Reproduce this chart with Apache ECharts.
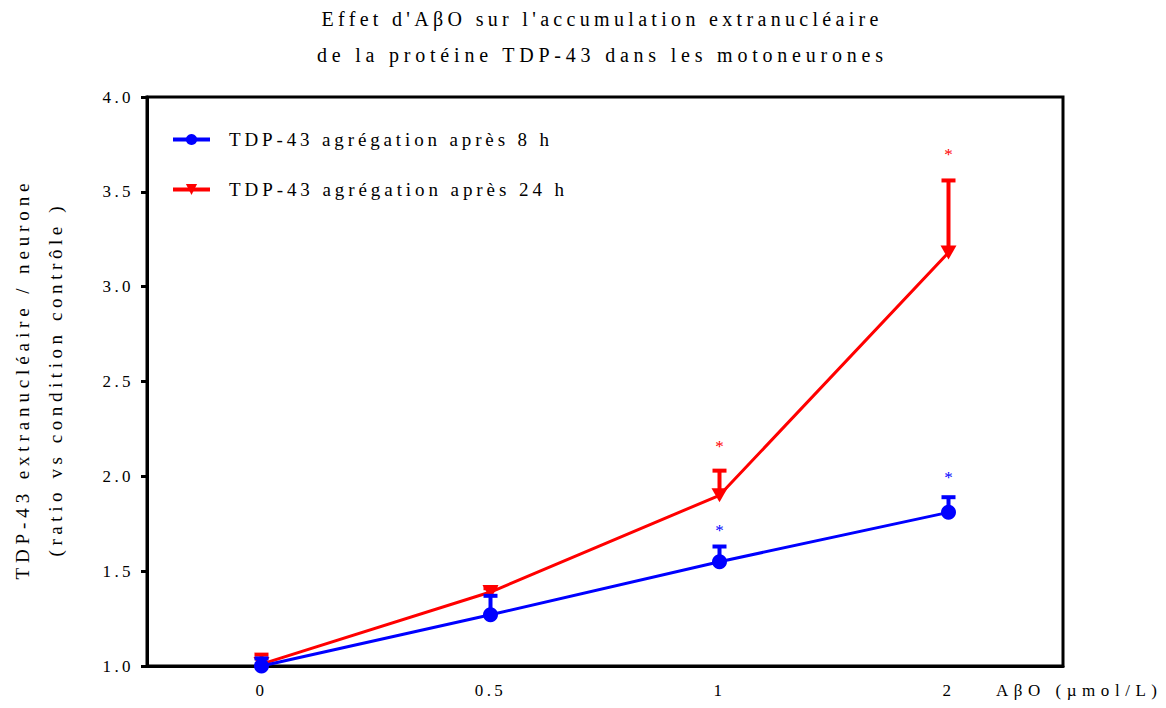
<!DOCTYPE html>
<html><head><meta charset="utf-8">
<script src="https://cdn.jsdelivr.net/npm/echarts@6/dist/echarts.min.js"></script>
<style>html,body{margin:0;padding:0;background:#fff}#c{width:1166px;height:708px}</style>
</head><body><div id="c"></div>
<script>
const doses = ['0', '0.5', '1', '2'];
const mean8 = [1.00, 1.27, 1.55, 1.81];
const top8 = [1.04, 1.37, 1.63, 1.89];
const mean24 = [1.01, 1.39, 1.90, 3.18];
const top24 = [1.06, 1.41, 2.03, 3.56];
const star8 = [null, null, 1.72, 2.00];
const star24 = [null, null, 2.16, 3.70];
const name8 = 'TDP-43 agrégation après 8 h';
const name24 = 'TDP-43 agrégation après 24 h';
const titleLines = ["Effet d'AβO sur l'accumulation extranucléaire", 'de la protéine TDP-43 dans les motoneurones'];
const yNameLines = ['TDP-43 extranucléaire / neurone', '(ratio vs condition contrôle )'];
const xName = 'AβO (µmol/L)';

const FONT = 'Liberation Serif';
const BLUE = '#0000ff', RED = '#ff0000';
// rendered text widths (style only), used to mimic the wide tracking of the original
const TEXT_WIDTHS = {};
TEXT_WIDTHS[titleLines[0]] = 557;
TEXT_WIDTHS[titleLines[1]] = 566;
TEXT_WIDTHS[name8] = 320;
TEXT_WIDTHS[name24] = 335;
TEXT_WIDTHS[yNameLines[0]] = 396;
TEXT_WIDTHS[yNameLines[1]] = 350;
TEXT_WIDTHS[xName] = 161;

function errItem(color) {
  return function (params, api) {
    const p0 = api.coord([api.value(0), api.value(1)]);
    const p1 = api.coord([api.value(0), api.value(2)]);
    const hw = 7;
    return {
      type: 'group', children: [
        { type: 'line', shape: { x1: p0[0], y1: p0[1], x2: p1[0], y2: p1[1] }, style: { stroke: color, lineWidth: 4 } },
        { type: 'line', shape: { x1: p1[0] - hw, y1: p1[1], x2: p1[0] + hw, y2: p1[1] }, style: { stroke: color, lineWidth: 4 } }
      ]
    };
  };
}
function starItem(color) {
  return function (params, api) {
    const p = api.coord([api.value(0), api.value(1)]);
    return { type: 'text', x: p[0], y: p[1] + 1, style: { text: '*', fill: color, fontFamily: FONT, fontSize: 17, align: 'center', verticalAlign: 'middle' } };
  };
}
const errData = (m, t) => doses.map((d, i) => [i, m[i], t[i]]);
const starData = s => s.map((v, i) => v == null ? null : [i, v]).filter(Boolean);

const chart = echarts.init(document.getElementById('c'), null, { renderer: 'svg' });
chart.setOption({
  animation: false,
  backgroundColor: '#fff',
  textStyle: { fontFamily: FONT, color: '#000' },
  title: {
    text: titleLines.join('\n'), left: 595, top: -4, textAlign: 'center',
    textStyle: { fontFamily: FONT, fontSize: 20, fontWeight: 'normal', color: '#000', lineHeight: 36 }
  },
  legend: {
    data: [name8, name24], orient: 'vertical', left: 166, top: 125,
    itemWidth: 37, itemHeight: 14, itemGap: 31,
    lineStyle: { width: 4 },
    textStyle: { fontFamily: FONT, fontSize: 19, color: '#000', padding: [0, 0, 0, 14] }
  },
  grid: { left: 147, right: 103, top: 97, bottom: 42, show: true, borderColor: '#000', borderWidth: 3, containLabel: false, outerBoundsMode: 'none' },
  xAxis: {
    type: 'category', data: doses, boundaryGap: true,
    axisLine: { lineStyle: { color: '#000', width: 3 } },
    axisTick: { alignWithLabel: true, length: 6, lineStyle: { color: '#000', width: 3 } },
    axisLabel: { fontFamily: FONT, fontSize: 17, color: '#000', margin: 16 }
  },
  yAxis: {
    type: 'value', min: 1, max: 4, interval: 0.5,
    name: yNameLines.join('\n'), nameLocation: 'middle', nameGap: 75,
    nameTextStyle: { fontFamily: FONT, fontSize: 19, color: '#000', lineHeight: 33 },
    splitLine: { show: false },
    axisLine: { show: true, lineStyle: { color: '#000', width: 3 } },
    axisTick: { show: true, length: 6, lineStyle: { color: '#000', width: 3 } },
    axisLabel: { fontFamily: FONT, fontSize: 17, color: '#000', margin: 13, formatter: v => v.toFixed(1) }
  },
  graphic: [{
    type: 'text', left: 996, top: 682,
    style: { text: xName, fontFamily: FONT, fontSize: 17, fill: '#000' }
  }],
  series: [
    { type: 'custom', name: 'e24', renderItem: errItem(RED), data: errData(mean24, top24), z: 2, silent: true },
    {
      type: 'line', name: name24, data: mean24, symbol: 'triangle', symbolRotate: 180, symbolSize: [16, 14],
      lineStyle: { color: RED, width: 3 }, itemStyle: { color: RED }, z: 3, silent: true
    },
    { type: 'custom', name: 's24', renderItem: starItem(RED), data: starData(star24), z: 3, silent: true },
    { type: 'custom', name: 'e8', renderItem: errItem(BLUE), data: errData(mean8, top8), z: 4, silent: true },
    {
      type: 'line', name: name8, data: mean8, symbol: 'circle', symbolSize: 15,
      lineStyle: { color: BLUE, width: 3 }, itemStyle: { color: BLUE }, z: 5, silent: true
    },
    { type: 'custom', name: 's8', renderItem: starItem(BLUE), data: starData(star8), z: 5, silent: true }
  ]
});
function spaceText() {
  document.querySelectorAll('#c text').forEach(t => {
    const txt = t.textContent;
    if (txt.trim() === '*') return;
    if (TEXT_WIDTHS[txt]) {
      t.removeAttribute('letter-spacing');
      t.setAttribute('textLength', TEXT_WIDTHS[txt]);
      t.setAttribute('lengthAdjust', 'spacing');
    } else {
      const fs = parseFloat(getComputedStyle(t).fontSize) || 12;
      t.setAttribute('letter-spacing', (fs * 0.2).toFixed(2) + 'px');
    }
  });
}
chart.on('finished', spaceText);
spaceText();
</script></body></html>
